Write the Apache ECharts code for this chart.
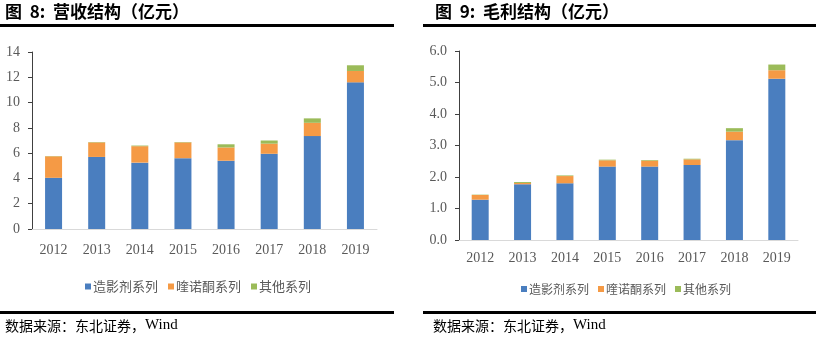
<!DOCTYPE html>
<html>
<head>
<meta charset="utf-8">
<script src="https://cdn.jsdelivr.net/npm/echarts@6/dist/echarts.min.js"></script>
<style>
  html, body { margin: 0; padding: 0; background: #fff; }
  #chart { width: 816px; height: 338px; }
</style>
</head>
<body>
<div id="chart"></div>
<script>
// Years shared by both panels
const years = ['2012', '2013', '2014', '2015', '2016', '2017', '2018', '2019'];
const seriesNames = ['造影剂系列', '喹诺酮系列', '其他系列'];

// Revenue breakdown (亿元)
const revContrast = [4.05, 5.70, 5.25, 5.60, 5.40, 5.95, 7.35, 11.60];
const revQuinolone = [1.70, 1.15, 1.30, 1.25, 1.05, 0.80, 1.05, 0.90];
const revOther = [0.02, 0.03, 0.05, 0.03, 0.25, 0.25, 0.35, 0.45];

// Gross profit breakdown (亿元)
const gpContrast = [1.28, 1.77, 1.80, 2.33, 2.33, 2.38, 3.17, 5.12];
const gpQuinolone = [0.15, 0.04, 0.23, 0.20, 0.19, 0.18, 0.27, 0.27];
const gpOther = [0.01, 0.03, 0.02, 0.02, 0.02, 0.02, 0.11, 0.18];

const revTicks = [0, 2, 4, 6, 8, 10, 12, 14];
const gpTicks = [0, 1, 2, 3, 4, 5, 6];

const colors = ['#4A7EBF', '#F59A45', '#9BBB59'];
const serif = '"Liberation Serif", "Times New Roman", serif';
const cjk = '"Noto Sans CJK SC", sans-serif';

function xAxis(gridIndex, margin) {
  return {
    type: 'category', gridIndex, data: years,
    axisLine: { lineStyle: { color: '#d9d9d9', width: 1 } },
    axisTick: { show: false },
    axisLabel: { fontFamily: serif, fontSize: 14, color: '#595959', margin }
  };
}
function yAxis(gridIndex, ticks, fmt) {
  return {
    type: 'value', gridIndex,
    min: ticks[0], max: ticks[ticks.length - 1], interval: ticks[1] - ticks[0],
    axisLine: { show: true, lineStyle: { color: '#404040', width: 1 } },
    axisTick: { show: true, length: 4, lineStyle: { color: '#404040' } },
    splitLine: { show: false },
    axisLabel: { fontFamily: serif, fontSize: 14, color: '#595959', margin: 12, formatter: fmt }
  };
}
function bars(idx, stack, arrays) {
  return arrays.map((arr, i) => ({
    name: seriesNames[i], type: 'bar', stack, data: arr,
    xAxisIndex: idx, yAxisIndex: idx, barWidth: 17,
    itemStyle: { color: colors[i] }
  }));
}
function legend(left, top, size, gap) {
  return {
    data: seriesNames, left, top, itemWidth: 6, itemHeight: 6, itemGap: gap,
    icon: 'rect', textStyle: { fontFamily: cjk, fontSize: size, color: '#595959', padding: [0, 0, 0, -3] }
  };
}
function source(left) {
  return {
    type: 'text', left, top: 318,
    style: {
      text: '{c|数据来源：东北证券，}{w|Wind}',
      rich: {
        c: { fontFamily: cjk, fontSize: 14, fill: '#000' },
        w: { fontFamily: serif, fontSize: 15, fill: '#000' }
      }
    }
  };
}

const chart = echarts.init(document.getElementById('chart'));
chart.setOption({
  animation: false,
  grid: [
    { left: 32, top: 52, width: 345, height: 177 },
    { left: 459, top: 51, width: 339, height: 189 }
  ],
  xAxis: [xAxis(0, 14), xAxis(1, 11)],
  yAxis: [yAxis(0, revTicks, v => String(v)), yAxis(1, gpTicks, v => v.toFixed(1))],
  legend: [legend(80, 275, 13, 10), legend(516, 278, 12, 9)],
  series: [
    ...bars(0, 'rev', [revContrast, revQuinolone, revOther]),
    ...bars(1, 'gp', [gpContrast, gpQuinolone, gpOther])
  ],
  graphic: [
    { type: 'text', left: 5, top: 3, style: { text: '图  8:  营收结构（亿元）', font: 'bold 17px "Noto Sans CJK SC", sans-serif', fill: '#000' } },
    { type: 'text', left: 435, top: 3, style: { text: '图  9:  毛利结构（亿元）', font: 'bold 17px "Noto Sans CJK SC", sans-serif', fill: '#000' } },
    { type: 'rect', shape: { x: 0, y: 24, width: 394, height: 3 }, style: { fill: '#000' } },
    { type: 'rect', shape: { x: 423, y: 24, width: 393, height: 3 }, style: { fill: '#000' } },
    { type: 'rect', shape: { x: 0, y: 311, width: 394, height: 3 }, style: { fill: '#000' } },
    { type: 'rect', shape: { x: 423, y: 311, width: 393, height: 3 }, style: { fill: '#000' } },
    source(5),
    source(433)
  ]
});
</script>
</body>
</html>
